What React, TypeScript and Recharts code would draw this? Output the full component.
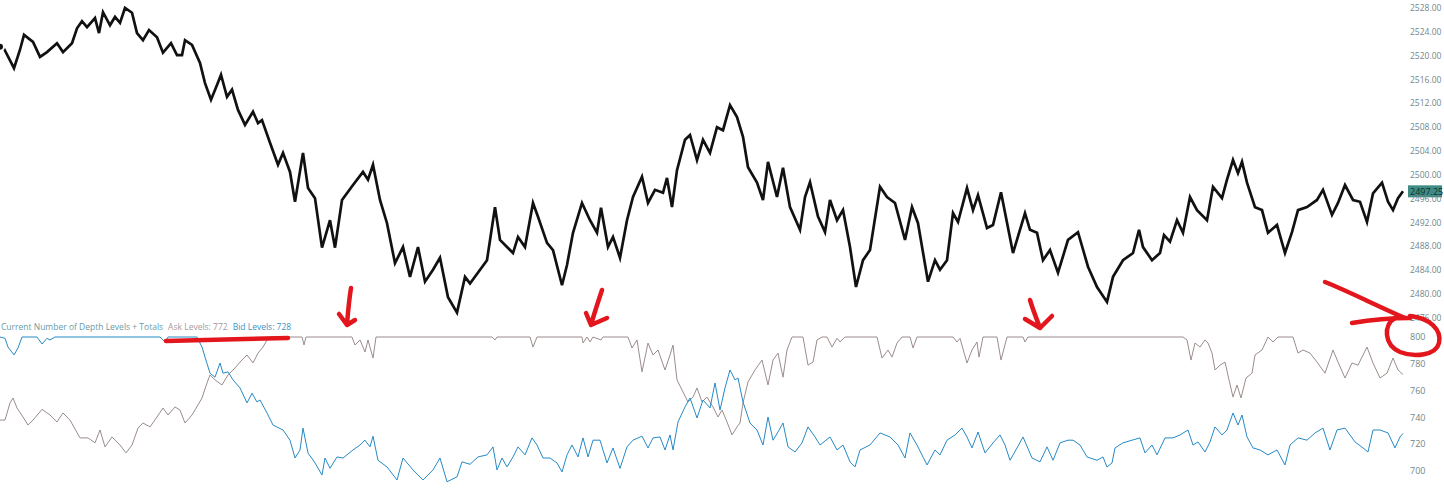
import React from "react";
import { LineChart, Line, XAxis, YAxis, ReferenceLine } from "recharts";

// price (bar index, last)
const priceSeries: [number, number][] = [
  [0, 2521.5], [3, 2521.5], [14, 2517.9], [20, 2521.0], [24, 2523.5], [33, 2522.3], [40, 2519.8],
  [47, 2520.6], [57, 2522.1], [63, 2520.6], [72, 2522.1], [77, 2524.6], [82, 2525.8], [87, 2524.8],
  [95, 2526.3], [99, 2523.8], [103, 2527.3], [110, 2525.1], [115, 2526.5], [120, 2525.5], [125, 2528.0],
  [132, 2527.2], [137, 2523.8], [143, 2522.6], [149, 2524.3], [157, 2523.1], [163, 2520.5], [171, 2522.1],
  [177, 2520.1], [182, 2520.1], [185, 2522.6], [192, 2521.8], [200, 2518.8], [205, 2515.4], [211, 2512.6],
  [217, 2515.1], [221, 2516.8], [227, 2513.1], [232, 2514.3], [238, 2510.9], [245, 2508.4], [253, 2510.6],
  [258, 2508.7], [262, 2509.2], [270, 2505.4], [278, 2501.7], [283, 2503.7], [290, 2500.5], [295, 2495.5],
  [303, 2503.7], [308, 2497.8], [315, 2496.1], [322, 2487.8], [330, 2492.4], [335, 2487.8], [342, 2495.8],
  [353, 2498.3], [363, 2500.5], [368, 2499.2], [373, 2501.7], [380, 2495.8], [387, 2491.9], [395, 2485.2],
  [403, 2487.9], [410, 2482.9], [418, 2487.9], [425, 2482.1], [433, 2484.1], [440, 2486.1], [448, 2479.5],
  [457, 2476.9], [465, 2482.9], [470, 2481.8], [487, 2485.7], [495, 2494.6], [500, 2489.1], [513, 2486.9],
  [518, 2489.6], [525, 2487.9], [533, 2495.3], [538, 2493.0], [547, 2488.6], [553, 2487.4], [562, 2481.5],
  [567, 2484.9], [573, 2490.3], [582, 2495.3], [590, 2492.4], [597, 2490.3], [601, 2494.5], [608, 2487.9],
  [613, 2489.6], [620, 2486.1], [627, 2492.4], [633, 2496.3], [642, 2499.7], [648, 2495.3], [655, 2497.5],
  [663, 2497.0], [667, 2499.5], [672, 2494.6], [677, 2500.8], [685, 2505.9], [690, 2506.7], [697, 2502.5],
  [703, 2505.9], [710, 2503.7], [717, 2508.0], [723, 2507.5], [730, 2511.7], [737, 2509.7], [743, 2506.4],
  [748, 2501.3], [757, 2498.7], [763, 2495.8], [768, 2502.2], [777, 2496.3], [783, 2501.2], [790, 2494.6],
  [800, 2490.8], [805, 2496.3], [810, 2498.8], [818, 2493.0], [825, 2490.4], [830, 2495.8], [837, 2492.4],
  [843, 2494.1], [850, 2487.9], [856, 2481.2], [863, 2485.7], [870, 2487.4], [880, 2498.0], [887, 2496.3],
  [895, 2495.3], [905, 2489.1], [912, 2494.6], [918, 2491.9], [928, 2482.1], [935, 2485.7], [940, 2484.1],
  [947, 2485.7], [953, 2493.6], [958, 2492.1], [967, 2497.8], [973, 2494.1], [978, 2496.6], [987, 2491.1],
  [993, 2491.6], [1001, 2497.1], [1013, 2486.9], [1025, 2493.6], [1030, 2490.8], [1037, 2490.3],
  [1043, 2485.7], [1050, 2487.4], [1058, 2483.6], [1068, 2489.1], [1078, 2490.4], [1088, 2484.6],
  [1097, 2481.2], [1107, 2478.7], [1113, 2482.9], [1123, 2485.7], [1133, 2486.9], [1139, 2490.8],
  [1143, 2487.9], [1152, 2485.7], [1160, 2486.9], [1164, 2489.9], [1170, 2488.8], [1177, 2492.4],
  [1183, 2490.3], [1190, 2496.3], [1197, 2494.1], [1207, 2492.4], [1213, 2498.0], [1222, 2496.1],
  [1227, 2499.2], [1233, 2502.5], [1238, 2500.3], [1242, 2502.2], [1247, 2498.7], [1255, 2494.6],
  [1262, 2494.1], [1268, 2490.3], [1277, 2491.6], [1285, 2486.9], [1292, 2490.4], [1298, 2494.1],
  [1307, 2494.6], [1317, 2495.8], [1323, 2497.5], [1332, 2493.3], [1338, 2495.3], [1345, 2498.3],
  [1353, 2495.8], [1360, 2495.5], [1367, 2492.1], [1373, 2496.9], [1382, 2498.7], [1388, 2495.5],
  [1393, 2494.1], [1398, 2496.1], [1403, 2497.25],
];

const askSeries: [number, number][] = [
  [0, 738], [5, 738], [10, 750.8], [13, 754.5], [17, 747], [23, 740.3], [28, 734.3], [33, 738], [42, 746],
  [50, 741.8], [57, 736.6], [63, 743.3], [70, 738], [80, 724.7], [88, 724.7], [95, 721], [100, 730.6],
  [105, 718], [112, 725.4], [120, 719.4], [126, 713.5], [132, 719.4], [138, 732], [143, 735.8], [150, 732.9],
  [157, 740.3], [163, 747], [168, 741.8], [175, 747.8], [180, 745.5], [185, 735.8], [192, 741.8], [198, 749.3],
  [202, 754.5], [207, 765.7], [210, 771.7], [215, 768], [222, 764.2], [228, 771.7], [235, 776.9], [240, 781.3],
  [247, 786.6], [253, 780.6], [258, 788], [263, 792.5], [267, 797.8], [270, 800], [302, 800], [304, 794],
  [306, 800], [352, 800], [355, 794], [360, 797.8], [365, 788.8], [368, 797.8], [373, 784.3], [376, 800],
  [492, 800], [495, 797.8], [497, 800], [530, 800], [533, 792.5], [537, 800], [582, 800], [583, 795.5],
  [587, 800], [590, 796.3], [593, 800], [601, 797.8], [603, 800], [628, 800], [632, 791.8], [637, 797.8],
  [642, 774], [648, 795.5], [653, 786.6], [658, 790.3], [665, 775.4], [670, 786.6], [673, 794], [677, 768],
  [683, 759], [688, 751.5], [693, 755.2], [697, 762], [702, 751.5], [707, 755.2], [713, 747.8], [718, 740.3],
  [722, 745.5], [727, 736.6], [732, 726.9], [737, 732.9], [740, 735.8], [743, 750.8], [748, 766.4],
  [755, 775.4], [762, 782.8], [768, 764.2], [773, 782.8], [778, 788], [783, 770], [787, 790.3], [792, 800],
  [803, 800], [808, 779], [813, 781.3], [817, 797.8], [822, 800], [827, 800], [832, 792.5], [837, 799],
  [840, 796.3], [845, 800], [877, 800], [882, 784.3], [888, 790.3], [892, 785], [897, 795.5], [902, 800],
  [910, 800], [913, 791.8], [917, 800], [953, 800], [957, 796.3], [960, 799], [967, 780.6], [972, 790.3],
  [977, 796.3], [979, 785], [983, 800], [997, 800], [1001, 782.8], [1007, 800], [1023, 800], [1025, 796.3],
  [1028, 800], [1183, 800], [1187, 797.8], [1191, 782.8], [1195, 795.5], [1200, 792.5], [1205, 797.8],
  [1208, 795.5], [1212, 788], [1215, 775.4], [1220, 779], [1225, 781.3], [1229, 768], [1233, 755.2],
  [1237, 764.2], [1241, 754.5], [1246, 769.4], [1252, 773], [1255, 786.6], [1262, 790.3], [1268, 800],
  [1273, 796.3], [1278, 800], [1293, 800], [1298, 788], [1303, 790.3], [1310, 788], [1317, 781.3],
  [1325, 773], [1333, 790.3], [1338, 781.3], [1345, 769.4], [1352, 780.6], [1358, 779], [1367, 792.5],
  [1373, 780.6], [1380, 769.4], [1387, 773], [1393, 784.3], [1398, 775.4], [1403, 772],
];

const bidSeries: [number, number][] = [
  [0, 800], [5, 799], [8, 792.5], [14, 786.6], [18, 791.8], [22, 800], [37, 800], [42, 794.8], [47, 799],
  [50, 797.8], [55, 800], [160, 800], [165, 796.3], [168, 800], [197, 800], [202, 792.5], [205, 785],
  [210, 773], [215, 770], [220, 780.6], [223, 773], [228, 774], [233, 768], [240, 762], [247, 750.8],
  [252, 758], [257, 751.5], [260, 753], [267, 743.3], [273, 734.3], [283, 730.6], [290, 723], [295, 709.7],
  [300, 715.7], [303, 732], [308, 713.5], [315, 706], [322, 697], [325, 709.7], [330, 702], [337, 710.5],
  [343, 709.7], [353, 715.7], [360, 719.4], [365, 723], [370, 718], [373, 726], [378, 708], [387, 703],
  [397, 693.3], [403, 709.7], [413, 700.8], [423, 693.3], [433, 700.8], [440, 709.7], [447, 692],
  [457, 695.6], [462, 706.8], [470, 705], [478, 710.5], [487, 712], [493, 718], [497, 700.8], [502, 709.7],
  [507, 703], [513, 710.5], [518, 718], [525, 712], [532, 724.7], [537, 719.4], [543, 709.7], [550, 709.7],
  [557, 706], [562, 699.3], [567, 712], [572, 719.4], [578, 710.5], [583, 724.7], [588, 710.5], [593, 723],
  [600, 723], [607, 706], [613, 717.2], [620, 702], [627, 718], [633, 723], [642, 726], [648, 717.2],
  [653, 724.7], [660, 725.4], [665, 715.7], [670, 726.9], [673, 715.7], [678, 736.6], [685, 747.8],
  [690, 754.5], [697, 739.6], [703, 753], [710, 747], [715, 765.7], [720, 745.5], [725, 762], [730, 775.4],
  [735, 768], [738, 769.4], [743, 751.5], [750, 735.8], [757, 730.6], [763, 719.4], [768, 740.3], [773, 723],
  [778, 729.1], [783, 735.8], [788, 718], [795, 714.2], [802, 721], [808, 732.9], [815, 725.4], [820, 719.4],
  [830, 725.4], [837, 715.7], [843, 719.4], [850, 706.8], [855, 703], [860, 715.7], [870, 719.4],
  [880, 728.4], [890, 725.4], [898, 719.4], [905, 709.7], [910, 728.4], [917, 719.4], [927, 704.5],
  [935, 715.7], [940, 712], [947, 723], [955, 726.9], [962, 732], [967, 725.4], [972, 717.2], [978, 729.1],
  [985, 713.5], [993, 721], [1000, 726.9], [1005, 719.4], [1010, 708], [1017, 717.2], [1023, 725.4],
  [1032, 709.7], [1040, 706.8], [1047, 718], [1053, 708], [1060, 721], [1068, 723], [1073, 723],
  [1080, 719.4], [1087, 710.5], [1097, 708], [1103, 710.5], [1107, 703], [1112, 706], [1115, 717.2],
  [1123, 721], [1132, 723], [1140, 724.7], [1145, 713.5], [1152, 719.4], [1157, 712], [1165, 724.7],
  [1173, 724.7], [1180, 726.9], [1188, 730.6], [1193, 719.4], [1198, 721.7], [1205, 714.2], [1210, 721.7],
  [1215, 732.9], [1222, 726.9], [1227, 730.6], [1233, 743.3], [1238, 734.3], [1242, 741.8], [1247, 725.4],
  [1253, 717.2], [1260, 715.7], [1268, 712], [1277, 715.7], [1285, 704.5], [1290, 719.4], [1298, 724.7],
  [1307, 723], [1315, 728.4], [1323, 732], [1330, 715.7], [1337, 730.6], [1345, 732], [1355, 721.7],
  [1363, 717.2], [1368, 714.2], [1373, 730.6], [1380, 730.6], [1388, 728.4], [1395, 717.2], [1400, 725.4],
  [1403, 728],
];

const priceTicks = [2476, 2480, 2484, 2488, 2492, 2496, 2500, 2504, 2508, 2512, 2516, 2520, 2524, 2528];
const levelTicks = [700, 720, 740, 760, 780, 800];
const lastPrice = 2497.25;
const lastAsk = 772;
const lastBid = 728;

const AXIS_COLOR = "#6f878c";
const FONT = "'Open Sans', 'Noto Sans', sans-serif";

const toRows = (s: [number, number][]) => s.map(([bar, v]) => ({ bar, v }));

function PriceTag(props: any) {
  const vb = props.viewBox || {};
  const x = (vb.x ?? 0) + (vb.width ?? 0) + 3;
  const y = vb.y ?? 0;
  return (
    <g>
      <rect x={x} y={y - 6} width={34} height={12} fill="#3f8c84" />
      <text x={x + 2} y={y + 3.5} fontSize={9} fontFamily={FONT} fill="#10302e">
        {lastPrice.toFixed(2)}
      </text>
    </g>
  );
}

export default function App() {
  const tick = { fontSize: 8.5, fill: AXIS_COLOR, fontFamily: FONT };
  return (
    <div
      style={{
        position: "fixed",
        left: 0,
        top: 0,
        width: 1444,
        height: 490,
        background: "#fff",
        overflow: "hidden",
      }}
    >
      <div style={{ position: "absolute", left: 0, top: 0 }}>
        <LineChart width={1444} height={325} margin={{ top: 0, right: 0, bottom: 0, left: 0 }}>
          <XAxis type="number" dataKey="bar" domain={[0, 1405]} hide />
          <YAxis
            orientation="right"
            width={39}
            domain={[2474.83, 2529.34]}
            ticks={priceTicks}
            tickFormatter={(v: number) => v.toFixed(2)}
            axisLine={false}
            tickLine={false}
            tickSize={0}
            tickMargin={5}
            tick={{ ...tick, textAnchor: "start" }}
          />
          <Line
            data={toRows(priceSeries)}
            dataKey="v"
            type="linear"
            stroke="#111"
            strokeWidth={2.7}
            dot={false}
            isAnimationActive={false}
          />
          <ReferenceLine y={lastPrice} stroke="none" ifOverflow="visible" label={<PriceTag />} />
        </LineChart>
      </div>
      <div style={{ position: "absolute", left: 0, top: 325 }}>
        <LineChart width={1444} height={165} margin={{ top: 0, right: 0, bottom: 0, left: 0 }}>
          <XAxis type="number" dataKey="bar" domain={[0, 1405]} hide />
          <YAxis
            orientation="right"
            width={39}
            domain={[685.82, 808.96]}
            ticks={levelTicks}
            axisLine={false}
            tickLine={false}
            tickSize={0}
            tickMargin={5}
            tick={{ ...tick, fontSize: 9, textAnchor: "start" }}
          />
          <Line
            data={toRows(askSeries)}
            dataKey="v"
            type="linear"
            stroke="#9c8c8c"
            strokeWidth={1}
            dot={false}
            isAnimationActive={false}
          />
          <Line
            data={toRows(bidSeries)}
            dataKey="v"
            type="linear"
            stroke="#268ac6"
            strokeWidth={1}
            dot={false}
            isAnimationActive={false}
          />
        </LineChart>
      </div>
      <div
        style={{
          position: "absolute",
          left: 1,
          top: 321,
          fontFamily: FONT,
          fontSize: 8.5,
          whiteSpace: "nowrap",
          lineHeight: "12px",
        }}
      >
        <span style={{ color: "#6a9ba6" }}>Current Number of Depth Levels + Totals</span>
        <span style={{ color: "#a8999a", marginLeft: 5 }}>Ask Levels: {lastAsk}</span>
        <span style={{ color: "#3b93c8", marginLeft: 5 }}>Bid Levels: {lastBid}</span>
      </div>
      {/* hand-drawn red markup */}
      <svg
        width={1444}
        height={490}
        style={{ position: "absolute", left: 0, top: 0, pointerEvents: "none" }}
        fill="none"
        stroke="#e3161d"
        strokeWidth={4.5}
        strokeLinecap="round"
        strokeLinejoin="round"
      >
        <path d="M351,288 C349,300 348,312 347,324 M339,314 L347,325 L355,320" />
        <path d="M602,290 C598,302 594,314 591,325 L607,318 M586,313 L591,325" />
        <path d="M1030,300 C1033,310 1037,320 1040,328 L1052,316 M1025,319 L1040,328" />
        <path d="M166,341 C200,340 250,339 288,338" />
        <path d="M1325,282 C1350,292 1375,305 1405,318 M1352,323 C1370,320 1390,318 1410,318" />
        <path d="M1395,318 C1383,325 1384,345 1400,352 C1415,358 1436,355 1439,343 C1442,330 1430,318 1410,316" />
      </svg>
    </div>
  );
}
